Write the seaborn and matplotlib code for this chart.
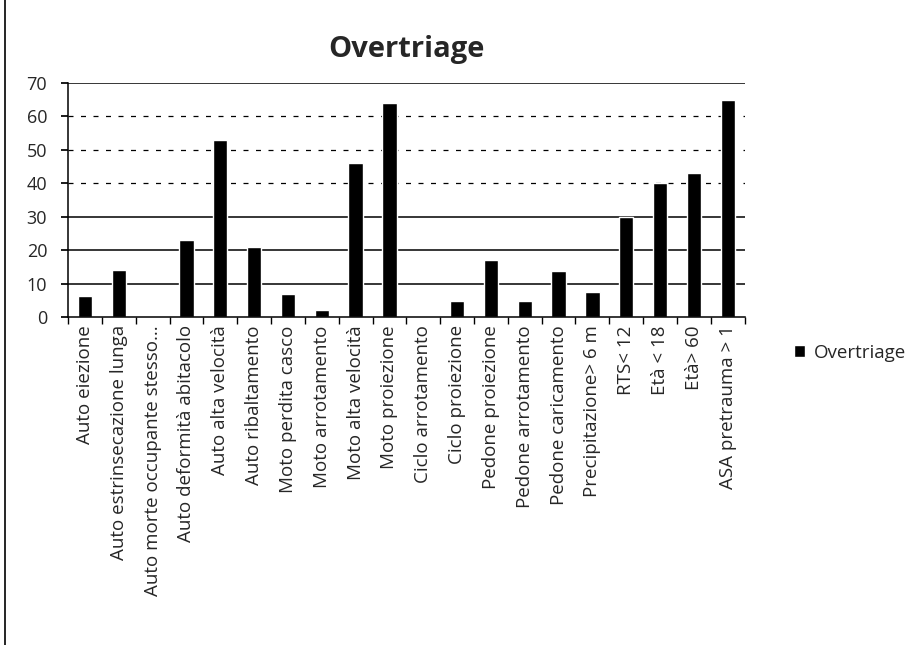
import matplotlib
matplotlib.use('Agg')
import matplotlib.pyplot as plt
import seaborn as sns
import pandas as pd
from matplotlib.lines import Line2D

# categories and overtriage percentages
categories = ['Auto eiezione', 'Auto estrinsecazione lunga', 'Auto morte occupante stesso...',
              'Auto deformità abitacolo', 'Auto alta velocità', 'Auto ribaltamento',
              'Moto perdita casco', 'Moto arrotamento', 'Moto alta velocità', 'Moto proiezione',
              'Ciclo arrotamento', 'Ciclo proiezione', 'Pedone proiezione', 'Pedone arrotamento',
              'Pedone caricamento', 'Precipitazione> 6 m', 'RTS< 12', 'Età < 18', 'Età> 60',
              'ASA pretrauma > 1']
overtriage = [6.2, 14, 0, 23, 53, 21, 7, 2, 46, 64, 0, 4.7, 17, 4.7, 13.8, 7.6, 30, 40, 43, 65]
yticks = [0, 10, 20, 30, 40, 50, 60, 70]

df = pd.DataFrame({'categoria': categories, 'valore': overtriage})

sns.set_theme(style='white')
plt.rcParams['font.family'] = ['Open Sans', 'DejaVu Sans']

fig = plt.figure(figsize=(9.07, 6.45), dpi=100)
ax = fig.add_axes([0.075, 0.5085, 0.746, 0.3628])

# gridlines (the scan left 40/50/60 broken up)
for y in yticks[1:]:
    if y in (40, 50, 60):
        ax.axhline(y, color='black', lw=0.9, ls=(0, (4, 6)), zorder=0)
    else:
        ax.axhline(y, color='black', lw=1.1, zorder=0)

sns.barplot(data=df, x='categoria', y='valore', color='black', width=0.42,
            saturation=1, label='Overtriage', ax=ax, zorder=2)
handles, labels = ax.get_legend_handles_labels()
if ax.get_legend() is not None:
    ax.get_legend().remove()

ax.set_ylim(0, 70)
ax.set_xlim(-0.5, len(categories) - 0.5)
ax.set_yticks(yticks)
ax.set_yticklabels([str(v) for v in yticks], fontsize=13)
ax.set_xticks(range(len(categories)))
ax.set_xticklabels(categories, rotation=90, fontsize=13.5)
ax.tick_params(axis='x', which='major', length=0, pad=6)
ax.set_xticks([i - 0.5 for i in range(len(categories) + 1)], minor=True)
ax.tick_params(axis='x', which='minor', length=5, color='black', direction='out', bottom=True)
ax.tick_params(axis='y', length=5, color='black', direction='out', left=True, pad=10)
ax.set_xlabel('')
ax.set_ylabel('')
for s in ['top', 'right']:
    ax.spines[s].set_visible(False)
for s in ['left', 'bottom']:
    ax.spines[s].set_color('black')
    ax.spines[s].set_linewidth(1.1)

ax.set_title('Overtriage', fontsize=21, fontweight='bold', pad=19)

fig.legend(handles, labels, loc='center left', bbox_to_anchor=(0.875, 1 - 353 / 645),
           frameon=False, fontsize=13.5, handlelength=0.6, handleheight=0.6,
           handletextpad=0.5, borderaxespad=0, borderpad=0)

# page border from the scan
fig.add_artist(Line2D([0.006, 0.006], [0.0, 1.0], color='black', lw=1.2))

plt.savefig('out.png', dpi=100)
